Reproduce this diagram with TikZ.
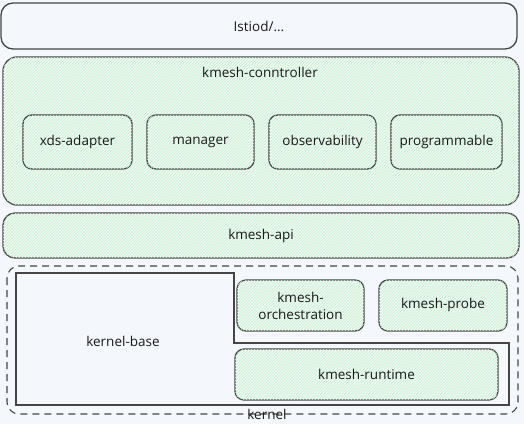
\documentclass[tikz,border=0pt]{standalone}
\usepackage{fontspec}
\setmainfont{Open Sans}
\usetikzlibrary{patterns}
\definecolor{bgc}{HTML}{F4F8FC}
\definecolor{strk}{HTML}{454545}
\definecolor{gfill}{HTML}{EEF9F1}
\definecolor{ghatch}{HTML}{C6EFCF}
\tikzset{
  greenbox/.style={draw=strk, line width=1.3pt, rounded corners=9pt, fill=gfill,
    postaction={pattern=north east lines, pattern color=ghatch}},
  whitebox/.style={draw=strk, line width=1.3pt, rounded corners=12pt, fill=bgc},
  lbl/.style={font=\fontsize{13.5}{15}\selectfont, text=black!90, align=center, inner sep=0pt},
}
\begin{document}
\begin{tikzpicture}[x=1pt,y=-1pt]
\useasboundingbox[fill=bgc] (0,0) rectangle (524,424);
% Istiod
\draw[whitebox] (1,3) rectangle (517,49);
\node[lbl] (istiod) at (259,26) {Istiod/...};
% controller
\draw[greenbox, rounded corners=14pt] (3,57) rectangle (519,205);
\node[lbl] (ctrl) at (260,72) {kmesh-conntroller};
\draw[greenbox] (23,115) rectangle (132,169);
\node[lbl] (xds) at (77.5,142) {xds-adapter};
\draw[greenbox] (147,115) rectangle (254,169);
\node[lbl] (mgr) at (200.5,142) {manager};
\draw[greenbox] (269,115) rectangle (376,169);
\node[lbl] (obs) at (322.5,142) {observability};
\draw[greenbox] (391,115) rectangle (502,169);
\node[lbl] (prog) at (446.5,142) {programmable};
% api
\draw[greenbox, rounded corners=12pt] (3,213) rectangle (519,258);
\node[lbl] (api) at (261,236) {kmesh-api};
% kernel dashed
\draw[draw=strk, line width=1.1pt, dash pattern=on 7pt off 5pt, rounded corners=12pt] (7,266) rectangle (518,414);
% kernel-base polygon
\draw[draw=strk, line width=1.3pt, fill=bgc] (16,273) -- (234,273) -- (234,343) -- (509,343) -- (509,405) -- (16,405) -- cycle;
\node[lbl] (kbase) at (123,341) {kernel-base};
% orchestration, probe, runtime
\draw[greenbox] (237,280) rectangle (364,331);
\node[lbl, font=\fontsize{13.5}{17}\selectfont] (orch) at (300.5,305.5) {kmesh-\\orchestration};
\draw[greenbox] (379,280) rectangle (507,331);
\node[lbl] (probe) at (443,305) {kmesh-probe};
\draw[greenbox] (235,349) rectangle (498,400);
\node[lbl] (rt) at (366.5,374) {kmesh-runtime};
\node[lbl] (kernel) at (267,414) {kernel};
\end{tikzpicture}
\end{document}
